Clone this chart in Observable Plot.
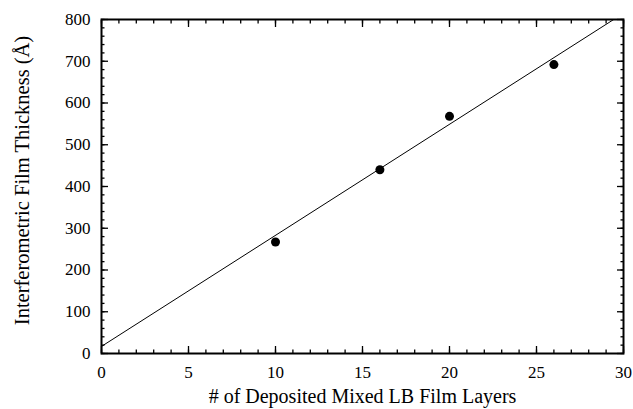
<!DOCTYPE html>
<html>
<head>
<meta charset="utf-8">
<script src="https://cdn.jsdelivr.net/npm/d3@7"></script>
<script src="https://cdn.jsdelivr.net/npm/@observablehq/plot@0.6"></script>
<style>
  html, body { margin: 0; padding: 0; background: #fff; }
  svg, svg text { font-family: 'Liberation Serif', 'Times New Roman', serif !important; }
</style>
</head>
<body>
<div id="chart"></div>
<script>
// Data
const layers = [10, 16, 20, 26];
const thickness = [267, 440, 568, 692];
// Linear fit line end points
const fitX = [0, 30];
const fitY = [17, 815];
// Ticks
const xMajor = [0, 5, 10, 15, 20, 25, 30];
const xMinor = d3.range(0, 31, 1);
const yMajor = [0, 100, 200, 300, 400, 500, 600, 700, 800];
const yMinor = d3.range(0, 801, 20);
const xLabel = "# of Deposited Mixed LB Film Layers";
const yLabel = "Interferometric Film Thickness (Å)";

const points = layers.map((x, i) => ({x, y: thickness[i]}));
const fit = fitX.map((x, i) => ({x, y: fitY[i]}));
const blank = () => "";

const chart = Plot.plot({
  width: 633,
  height: 409,
  marginLeft: 101,
  marginRight: 10,
  marginTop: 19,
  marginBottom: 56,
  style: {fontFamily: "'Liberation Serif', 'Times New Roman', serif", fontSize: "17px", color: "#000", background: "#fff"},
  x: {domain: [0, 30]},
  y: {domain: [0, 800]},
  marks: [
    Plot.line(fit, {x: "x", y: "y", stroke: "#000", strokeWidth: 1, clip: true}),
    Plot.dot(points, {x: "x", y: "y", r: 4.5, fill: "#000", stroke: "none"}),
    // tick labels
    Plot.axisX(xMajor, {anchor: "bottom", tickSize: 0, tickPadding: 12, fontSize: 17, label: null}),
    Plot.axisY(yMajor, {anchor: "left", tickSize: 0, tickPadding: 11, fontSize: 17, label: null}),
    // inward ticks, all four sides
    Plot.axisX(xMinor, {anchor: "bottom", tickSize: -3.5, tickFormat: blank, label: null, strokeWidth: 1.3}),
    Plot.axisX(xMajor, {anchor: "bottom", tickSize: -7, tickFormat: blank, label: null, strokeWidth: 1.3}),
    Plot.axisX(xMinor, {anchor: "top", tickSize: -3.5, tickFormat: blank, label: null, strokeWidth: 1.3}),
    Plot.axisX(xMajor, {anchor: "top", tickSize: -7, tickFormat: blank, label: null, strokeWidth: 1.3}),
    Plot.axisY(yMinor, {anchor: "left", tickSize: -3.5, tickFormat: blank, label: null, strokeWidth: 1.3}),
    Plot.axisY(yMajor, {anchor: "left", tickSize: -7, tickFormat: blank, label: null, strokeWidth: 1.3}),
    Plot.axisY(yMinor, {anchor: "right", tickSize: -3.5, tickFormat: blank, label: null, strokeWidth: 1.3}),
    Plot.axisY(yMajor, {anchor: "right", tickSize: -7, tickFormat: blank, label: null, strokeWidth: 1.3}),
    Plot.frame({stroke: "#000", strokeWidth: 2}),
    // axis titles
    Plot.text([xLabel], {text: d => d, frameAnchor: "bottom", dy: 49, fontSize: 20, fill: "#000", textAnchor: "middle"}),
    Plot.text([yLabel], {text: d => d, frameAnchor: "left", rotate: -90, dx: -79, dy: -6, fontSize: 20.5, fill: "#000", textAnchor: "middle"})
  ]
});
document.getElementById("chart").appendChild(chart);
</script>
</body>
</html>
